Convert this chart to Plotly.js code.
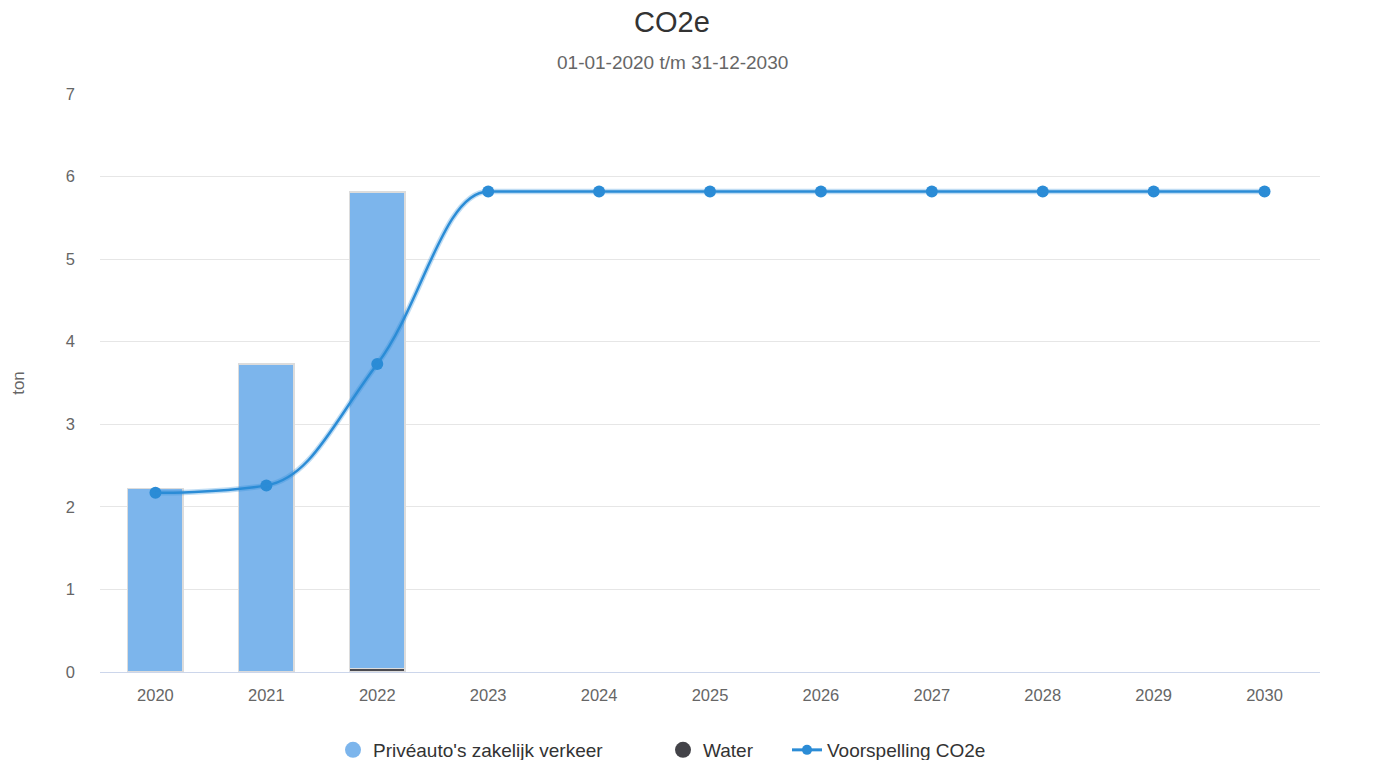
<!DOCTYPE html>
<html>
<head>
<meta charset="utf-8">
<script src="https://cdn.plot.ly/plotly-3.0.1.min.js"></script>
<style>html,body{margin:0;padding:0;background:#fff;}#chart{width:1374px;height:760px;}</style>
</head>
<body>
<div id="chart"></div>
<script>
const years = ['2020','2021','2022','2023','2024','2025','2026','2027','2028','2029','2030'];
const priveauto = [2.22, 3.73, 5.77, null, null, null, null, null, null, null, null];
const water = [0, 0, 0.045, null, null, null, null, null, null, null, null];
const voorspelling = [2.17, 2.26, 3.73, 5.82, 5.82, 5.82, 5.82, 5.82, 5.82, 5.82, 5.82];
const yTicks = [0, 1, 2, 3, 4, 5, 6, 7];

const font = 'Liberation Sans, Arial, Helvetica, sans-serif';
const lineColor = '#2b8cd6';

// Highcharts-style spline path (control points computed from the data, drawn in data coordinates)
function splinePath(ys) {
  const s = 1.5, d = s + 1, n = ys.length;
  const L = [], R = [];
  for (let i = 0; i < n; i++) {
    const x = i, y = ys[i];
    if (i === 0 || i === n - 1) { L[i] = [x, y]; R[i] = [x, y]; continue; }
    const px = i - 1, py = ys[i - 1], nx = i + 1, ny = ys[i + 1];
    let lx = (s * x + px) / d, ly = (s * y + py) / d;
    let rx = (s * x + nx) / d, ry = (s * y + ny) / d;
    if (rx !== lx) {
      const corr = ((ry - ly) * (rx - x)) / (rx - lx) + y - ry;
      ly += corr; ry += corr;
    }
    if (ly > py && ly > y) { ly = Math.max(py, y); ry = 2 * y - ly; }
    else if (ly < py && ly < y) { ly = Math.min(py, y); ry = 2 * y - ly; }
    if (ry > ny && ry > y) { ry = Math.max(ny, y); ly = 2 * y - ry; }
    else if (ry < ny && ry < y) { ry = Math.min(ny, y); ly = 2 * y - ry; }
    L[i] = [lx, ly]; R[i] = [rx, ry];
  }
  let p = 'M' + 0 + ',' + ys[0];
  for (let i = 1; i < n; i++) {
    p += ' C' + R[i - 1][0] + ',' + R[i - 1][1] + ' ' + L[i][0] + ',' + L[i][1] + ' ' + i + ',' + ys[i];
  }
  return p;
}
const linePath = splinePath(voorspelling);

const traces = [
  {type:'bar', x: years, y: water, name:'Water', marker:{color:'#4a4a50', line:{color:'#dcdcdc', width:1.5}}, showlegend:false},
  {type:'bar', x: years, y: priveauto, name:"Privéauto's zakelijk verkeer", marker:{color:'#7cb5ec', line:{color:'#dcdcdc', width:1.5}}, showlegend:false},
  {type:'scatter', mode:'markers', x: years, y: voorspelling, name:'Voorspelling CO2e', marker:{color:lineColor, size:12}, showlegend:false},
  {type:'scatter', mode:'markers', x:[null], y:[null], name:"Privéauto's zakelijk verkeer", marker:{color:'#7cb5ec', size:16, symbol:'circle'}, legend:'legend'},
  {type:'scatter', mode:'markers', x:[null], y:[null], name:'Water', marker:{color:'#434348', size:16, symbol:'circle'}, legend:'legend2'},
  {type:'scatter', mode:'lines+markers', x:[null], y:[null], name:'Voorspelling CO2e', line:{color:lineColor, width:3}, marker:{color:lineColor, size:10}, legend:'legend3'}
];

const legendBase = {orientation:'h', xref:'container', yref:'container', xanchor:'left', y:1-750/760, yanchor:'middle', font:{size:19, color:'#333'}, bgcolor:'rgba(0,0,0,0)'};

const layout = {
  width:1374, height:760,
  margin:{l:100, r:54, t:94, b:88},
  paper_bgcolor:'#fff', plot_bgcolor:'#fff',
  font:{family:font, color:'#666', size:16.5},
  barmode:'stack', bargap:0.5,
  title:{text:'CO2e', font:{family:font, size:29, color:'#333'}, x:672/1374, xref:'container', xanchor:'center', y:1-22/760, yref:'container', yanchor:'middle'},
  annotations:[{text:'01-01-2020 t/m 31-12-2030', xref:'paper', yref:'paper', x:(672-100)/1220, y:1+32/578, xanchor:'center', yanchor:'middle', showarrow:false, font:{family:font, size:19, color:'#666'}}],
  shapes:[
    {type:'path', xref:'x', yref:'y', path: linePath, line:{color:'rgba(43,140,214,0.3)', width:5.5}, layer:'above'},
    {type:'path', xref:'x', yref:'y', path: linePath, line:{color:lineColor, width:2.5}, layer:'above'}
  ],
  xaxis:{type:'category', categoryorder:'array', categoryarray: years, range:[-0.5, years.length - 0.5], autorange:false, showgrid:false, showline:true, linecolor:'#ccd6eb', linewidth:1, ticks:'', tickfont:{size:16.5, color:'#666'}, ticklabelstandoff:8, fixedrange:true, automargin:false},
  yaxis:{range:[0,7], autorange:false, tickvals:yTicks, ticktext:yTicks.map(String), showgrid:true, gridcolor:'#e6e6e6', zeroline:false, showline:false, tickfont:{size:16.5, color:'#666'}, ticklabelstandoff:24, automargin:false, title:{text:'ton', font:{size:17, color:'#666'}, standoff:36}},
  legend: Object.assign({}, legendBase, {x:333/1374}),
  legend2: Object.assign({}, legendBase, {x:663/1374}),
  legend3: Object.assign({}, legendBase, {x:787/1374}),
  showlegend:true
};
Plotly.newPlot('chart', traces, layout, {displayModeBar:false, staticPlot:true});
</script>
</body>
</html>
